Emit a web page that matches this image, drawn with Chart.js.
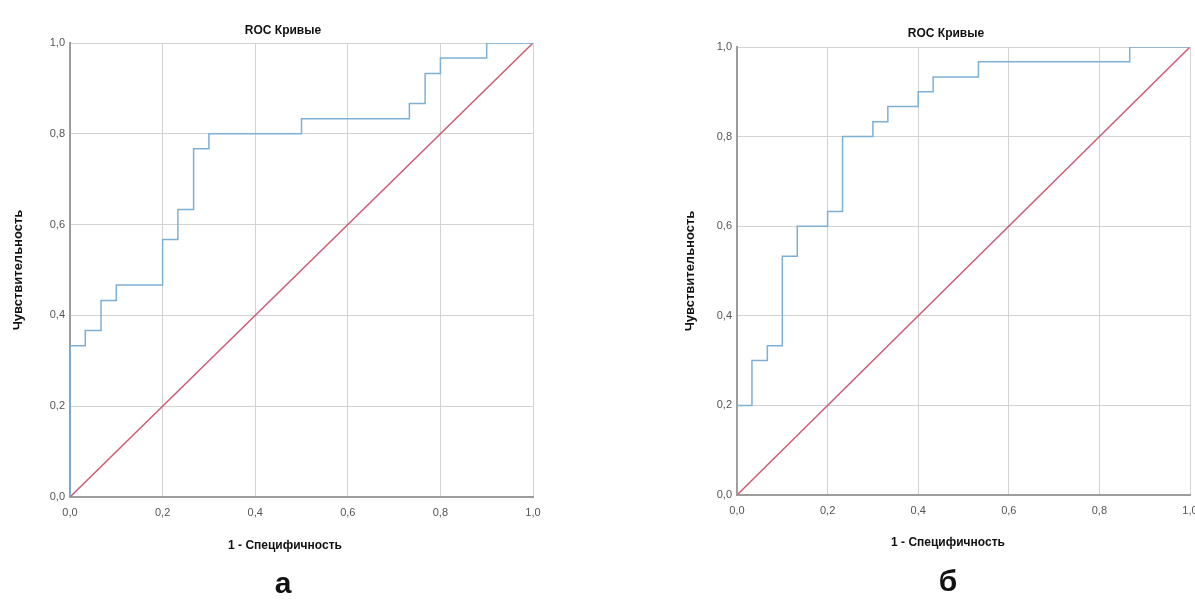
<!DOCTYPE html>
<html>
<head>
<meta charset="utf-8">
<script src="https://cdn.jsdelivr.net/npm/chart.js@4.4.1/dist/chart.umd.min.js"></script>
<style>
  html, body { margin: 0; padding: 0; background: #fff; width: 1195px; height: 601px; overflow: hidden; }
  body { position: relative; font-family: "Liberation Sans", Arial, sans-serif; }
  canvas { position: absolute; top: 0; }
  .lbl { position: absolute; font-weight: bold; color: #111; white-space: nowrap; transform: translate(-50%, -50%); }
  .xt { font-size: 12px; }
  .big { font-size: 30px; }
</style>
</head>
<body>
<canvas id="rocA" style="left:0px"></canvas>
<canvas id="rocB" style="left:667px"></canvas>
<div class="lbl xt" style="left:283px; top:30px">ROC Кривые</div>
<div class="lbl xt" style="left:946px; top:33px">ROC Кривые</div>
<div class="lbl xt" style="left:285px; top:545px">1 - Специфичность</div>
<div class="lbl xt" style="left:948px; top:542px">1 - Специфичность</div>
<div class="lbl big" style="left:283px; top:583px">а</div>
<div class="lbl big" style="left:948px; top:581px">б</div>
<script>
// ROC vertices (1 - specificity, sensitivity)
const fprA = [0, 0, 0.033, 0.067, 0.1, 0.2, 0.233, 0.267, 0.3, 0.5, 0.733, 0.767, 0.8, 0.9, 1.0];
const tprA = [0, 0.333, 0.367, 0.433, 0.467, 0.567, 0.633, 0.767, 0.8, 0.833, 0.867, 0.933, 0.967, 1.0, 1.0];

const fprB = [0, 0, 0.033, 0.067, 0.1, 0.133, 0.2, 0.233, 0.3, 0.333, 0.4, 0.433, 0.533, 0.867, 1.0];
const tprB = [0, 0.2, 0.3, 0.333, 0.533, 0.6, 0.633, 0.8, 0.833, 0.867, 0.9, 0.933, 0.967, 1.0, 1.0];

// reference line
const diagX = [0, 1];
const diagY = [0, 1];

const tickValues = [0, 0.2, 0.4, 0.6, 0.8, 1.0];

const yTitle = 'Чувствительность';

function toPoints(xs, ys) {
  return xs.map((x, i) => ({ x: x, y: ys[i] }));
}

function fmt(v) {
  return v.toFixed(1).replace('.', ',');
}

function makeRoc(id, fpr, tpr, cfg) {
  const canvas = document.getElementById(id);
  canvas.width = cfg.width;
  canvas.height = 560;
  canvas.style.width = cfg.width + 'px';
  canvas.style.height = '560px';

  const axisCommon = {
    type: 'linear',
    min: 0,
    max: 1,
    afterBuildTicks: (scale) => { scale.ticks = tickValues.map(v => ({ value: v })); },
    grid: { color: '#d3d3d3', lineWidth: 1, drawTicks: false },
    border: { color: '#9c9c9c', width: 2 }
  };

  return new Chart(canvas.getContext('2d'), {
    type: 'scatter',
    data: {
      datasets: [
        {
          data: toPoints(fpr, tpr),
          showLine: true,
          stepped: true,
          borderColor: '#7eb0d6',
          borderWidth: 1.5,
          pointRadius: 0,
          order: 1
        },
        {
          data: toPoints(diagX, diagY),
          showLine: true,
          borderColor: '#cc5c75',
          borderWidth: 1.5,
          pointRadius: 0,
          order: 2
        }
      ]
    },
    options: {
      responsive: false,
      animation: false,
      layout: { padding: { top: cfg.top, right: cfg.padRight, bottom: 0, left: 0 } },
      plugins: {
        legend: { display: false },
        tooltip: { enabled: false },
        title: { display: false }
      },
      scales: {
        x: {
          ...axisCommon,
          afterFit: (scale) => { scale.height = cfg.xHeight; scale.paddingRight = 0; scale.paddingLeft = 0; },
          ticks: {
            padding: 9,
            color: '#555',
            font: { family: 'Liberation Sans', size: 11 },
            maxRotation: 0,
            callback: (v) => fmt(v)
          }
        },
        y: {
          ...axisCommon,
          afterFit: (scale) => { scale.width = cfg.yWidth; scale.paddingTop = 0; scale.paddingBottom = 0; },
          title: {
            display: true,
            text: yTitle,
            color: '#111',
            font: { family: 'Liberation Sans', size: 13, weight: 'bold' },
            padding: { top: cfg.yTitlePad }
          },
          ticks: {
            padding: 5,
            color: '#555',
            font: { family: 'Liberation Sans', size: 11 },
            callback: (v) => fmt(v)
          }
        }
      }
    }
  });
}

makeRoc('rocA', fprA, tprA, { width: 566, top: 43, padRight: 33, yWidth: 70, xHeight: 63, yTitlePad: 11 });
makeRoc('rocB', fprB, tprB, { width: 558, top: 47, padRight: 35, yWidth: 70, xHeight: 65, yTitlePad: 16 });
</script>
</body>
</html>
